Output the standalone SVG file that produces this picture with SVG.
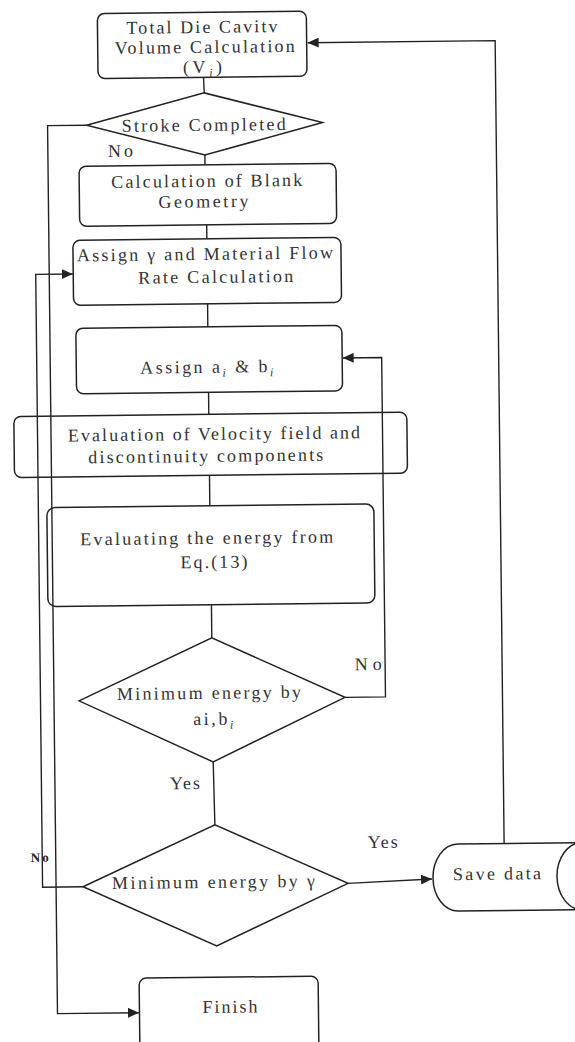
<svg xmlns="http://www.w3.org/2000/svg" width="575" height="1042" viewBox="0 0 575 1042">
<style>
.n{fill:#fff;stroke:#222;stroke-width:1.5}
.t{font-family:"Liberation Serif","Times New Roman",serif;font-size:18px;fill:#333}
.b{font-family:"Liberation Serif","Times New Roman",serif;font-size:13px;font-weight:bold;fill:#222}
.c{fill:none;stroke:#222;stroke-width:1.4}
.s{font-size:12px;font-style:italic}
</style>
<defs>
<marker id="ah" markerUnits="userSpaceOnUse" markerWidth="11" markerHeight="10" refX="11" refY="5" orient="auto"><path d="M0,0 L11,5 L0,10 z" fill="#222"/></marker>
</defs>
<rect width="575" height="1042" fill="#fff"/>
<g transform="rotate(-0.64 287 521)">
<g id="total">
<rect class="n" x="103" y="11.5" width="209" height="65" rx="7"/>
<text class="t" x="132" y="32" textLength="151" lengthAdjust="spacing">Total Die Cavitv</text>
<text class="t" x="120" y="52" textLength="180" lengthAdjust="spacing">Volume Calculation</text>
<text class="t" x="188" y="72" textLength="39" lengthAdjust="spacing">(V<tspan class="s" dy="4">i</tspan><tspan dy="-4">)</tspan></text>
</g>
<g id="stroke">
<polygon class="n" points="91,123 209,92 327,123 209,154"/>
<text class="t" x="126" y="130" textLength="164" lengthAdjust="spacing">Stroke Completed</text>
</g>
<g id="blank">
<rect class="n" x="83" y="164" width="257" height="60" rx="7"/>
<text class="t" x="115" y="186" textLength="191" lengthAdjust="spacing">Calculation of Blank</text>
<text class="t" x="162" y="206.5" textLength="90" lengthAdjust="spacing">Geometry</text>
</g>
<g id="gamma">
<rect class="n" x="76" y="238" width="268" height="65" rx="7"/>
<text class="t" x="80" y="259" textLength="256" lengthAdjust="spacing">Assign γ and Material Flow</text>
<text class="t" x="141" y="282" textLength="155" lengthAdjust="spacing">Rate Calculation</text>
</g>
<g id="assignab">
<rect class="n" x="78" y="326" width="266" height="65.5" rx="7"/>
<text class="t" x="142" y="372" textLength="133" lengthAdjust="spacing">Assign a<tspan class="s" dy="4">i</tspan><tspan dy="-4"> &amp; b</tspan><tspan class="s" dy="4">i</tspan></text>
</g>
<g id="velocity">
<rect class="n" x="15" y="413.5" width="393" height="61" rx="7"/>
<text class="t" x="69" y="439" textLength="292" lengthAdjust="spacing">Evaluation of Velocity field and</text>
<text class="t" x="89" y="461" textLength="235" lengthAdjust="spacing">discontinuity components</text>
</g>
<g id="energy">
<rect class="n" x="47" y="505" width="327" height="99" rx="8"/>
<text class="t" x="80" y="543" textLength="253" lengthAdjust="spacing">Evaluating the energy from</text>
<text class="t" x="180" y="567" textLength="67" lengthAdjust="spacing">Eq.(13)</text>
</g>
<g id="minab">
<polygon class="n" points="77,698.5 210.5,637 343,698 210.5,761"/>
<text class="t" x="115" y="698" textLength="184" lengthAdjust="spacing">Minimum energy by</text>
<text class="t" x="191" y="724" textLength="40" lengthAdjust="spacing">ai,b<tspan class="s" dy="4">i</tspan></text>
</g>
<g id="mingamma">
<polygon class="n" points="79,884.5 211.5,824 344,884 212,945"/>
<text class="t" x="108" y="887" textLength="203" lengthAdjust="spacing">Minimum energy by γ</text>
</g>
<g id="save">
<path class="n" d="M600,846 L454,846 A25,33.5 0 0 0 454,913 L600,913"/>
<path class="n" fill="none" d="M578,846 A25,33.5 0 0 0 578,913"/>
<text class="t" x="449" y="882" textLength="88" lengthAdjust="spacing">Save data</text>
</g>
<g id="finish">
<rect class="n" x="134" y="976.5" width="179" height="90" rx="7"/>
<text class="t" x="197" y="1012" textLength="55" lengthAdjust="spacing">Finish</text>
</g>
<g id="connectors">
<path class="c" d="M208.5,76.5 L209,92"/>
<path class="c" d="M209,154 L209,164"/>
<path class="c" d="M210,224 L210,238"/>
<path class="c" d="M210,303 L210,326"/>
<path class="c" d="M210,391.5 L210,413.5"/>
<path class="c" d="M210,474.5 L210,505"/>
<path class="c" d="M210.5,604 L210.5,637"/>
<path class="c" d="M210.5,761 L211.5,824"/>
<path class="c" d="M344,884 L428,880.6" marker-end="url(#ah)"/>
<path class="c" d="M500.5,846 L500.5,43 L313,43" marker-end="url(#ah)"/>
<path class="c" d="M91,123 L52,123 L52,1011 L133.5,1011" marker-end="url(#ah)"/>
<path class="c" d="M79,884.5 L38.5,884.5 L38.5,271.6 L75.5,271.6" marker-end="url(#ah)"/>
<path class="c" d="M343,698 L383.5,698 L383.5,358.6 L344.5,358.6" marker-end="url(#ah)"/>
<text class="t" x="112" y="155" textLength="25" lengthAdjust="spacing">No</text>
<text class="t" x="353" y="671" textLength="27" lengthAdjust="spacing">No</text>
<text class="t" x="167" y="788" textLength="30" lengthAdjust="spacing">Yes</text>
<text class="t" x="364" y="849" textLength="30" lengthAdjust="spacing">Yes</text>
<text class="b" x="27" y="859" textLength="18" lengthAdjust="spacing">No</text>
</g>
</g>
</svg>
